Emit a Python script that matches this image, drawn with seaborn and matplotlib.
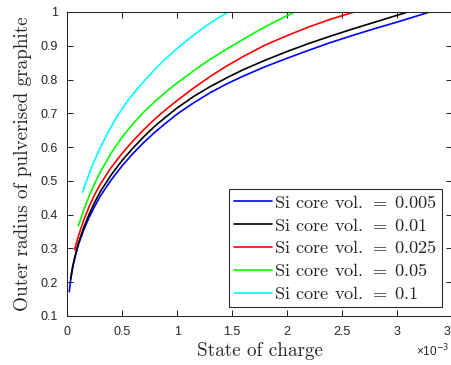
import numpy as np
import pandas as pd
import matplotlib
matplotlib.use('Agg')
import matplotlib.pyplot as plt
import seaborn as sns
from matplotlib.font_manager import FontProperties
from matplotlib.ticker import FuncFormatter

# values (state of charge in units of 1e-3)
volumes = ['0.005', '0.01', '0.025', '0.05', '0.1']
colors = ['#0000ff', '#000000', '#ff0000', '#00ff00', '#00ffff']

soc_005 = [0.018, 0.03, 0.05, 0.075, 0.1, 0.15, 0.2, 0.25, 0.3, 0.4, 0.5, 0.6, 0.7, 0.8, 0.9, 1.0,
           1.15, 1.3, 1.45, 1.6, 1.8, 2.0, 2.2, 2.4, 2.6, 2.8, 3.0, 3.15, 3.3]
rad_005 = [0.172, 0.205, 0.245, 0.28, 0.31, 0.355, 0.393, 0.425, 0.455, 0.503, 0.545, 0.582, 0.615, 0.645, 0.672, 0.698,
           0.731, 0.761, 0.787, 0.81, 0.838, 0.863, 0.887, 0.91, 0.931, 0.951, 0.97, 0.985, 1.0]

soc_01 = [0.03, 0.045, 0.06, 0.08, 0.1, 0.15, 0.2, 0.25, 0.3, 0.4, 0.5, 0.6, 0.7, 0.8, 0.9, 1.0,
          1.15, 1.3, 1.45, 1.6, 1.8, 2.0, 2.2, 2.4, 2.6, 2.8, 2.95, 3.1]
rad_01 = [0.21, 0.24, 0.263, 0.29, 0.315, 0.362, 0.402, 0.437, 0.468, 0.518, 0.561, 0.598, 0.632, 0.663, 0.69, 0.716,
          0.75, 0.779, 0.805, 0.829, 0.857, 0.883, 0.907, 0.929, 0.95, 0.97, 0.985, 1.0]

soc_025 = [0.067, 0.08, 0.1, 0.125, 0.15, 0.2, 0.25, 0.3, 0.4, 0.5, 0.6, 0.7, 0.8, 0.9, 1.0,
           1.15, 1.3, 1.45, 1.6, 1.8, 2.0, 2.2, 2.4, 2.61]
rad_025 = [0.296, 0.313, 0.335, 0.36, 0.384, 0.425, 0.46, 0.49, 0.54, 0.582, 0.619, 0.653, 0.684, 0.712, 0.738,
           0.775, 0.809, 0.84, 0.868, 0.902, 0.93, 0.956, 0.979, 1.0]

soc_05 = [0.1, 0.125, 0.15, 0.2, 0.25, 0.3, 0.4, 0.5, 0.6, 0.7, 0.8, 0.9, 1.0,
          1.15, 1.3, 1.45, 1.6, 1.75, 1.9, 2.07]
rad_05 = [0.367, 0.39, 0.414, 0.456, 0.493, 0.526, 0.583, 0.63, 0.67, 0.705, 0.736, 0.764, 0.79,
          0.826, 0.86, 0.89, 0.919, 0.947, 0.973, 1.0]

soc_1 = [0.138, 0.16, 0.18, 0.21, 0.24, 0.27, 0.3, 0.35, 0.4, 0.45, 0.5, 0.55, 0.6, 0.7, 0.8, 0.9,
         1.0, 1.1, 1.2, 1.3, 1.38, 1.465]
rad_1 = [0.466, 0.487, 0.505, 0.531, 0.555, 0.577, 0.598, 0.631, 0.661, 0.689, 0.714, 0.737, 0.758, 0.796, 0.831, 0.863,
         0.892, 0.919, 0.944, 0.967, 0.984, 1.0]

socs = [soc_005, soc_01, soc_025, soc_05, soc_1]
rads = [rad_005, rad_01, rad_025, rad_05, rad_1]
labels = ['Si core vol. $=\\;' + v + '$' for v in volumes]

frames = []
for lab, s, r in zip(labels, socs, rads):
    frames.append(pd.DataFrame({'soc': s, 'radius': r, 'series': lab}))
df = pd.concat(frames, ignore_index=True)

sns.set_theme(style='ticks')
plt.rcParams['font.family'] = ['Liberation Sans', 'DejaVu Sans']
plt.rcParams['mathtext.fontset'] = 'cm'

fig = plt.figure(figsize=(4.52, 3.65), dpi=100)
ax = fig.add_axes([67.3 / 452, 49 / 365, 384.5 / 452, 304 / 365])

sns.lineplot(data=df, x='soc', y='radius', hue='series', hue_order=labels,
             palette=colors, estimator=None, sort=False, linewidth=1.2,
             legend=False, ax=ax)

ax.set_xlim(0, 3.5)
ax.set_ylim(0.1, 1)
ax.set_xticks(np.arange(0, 3.51, 0.5))
ax.set_yticks(np.arange(0.1, 1.001, 0.1))
fmt = FuncFormatter(lambda v, p: '%g' % round(v, 3))
ax.xaxis.set_major_formatter(fmt)
ax.yaxis.set_major_formatter(fmt)
ax.tick_params(direction='in', length=4, width=0.75, color='#262626',
               labelcolor='#262626', labelsize=9, pad=7, top=True, right=True)
for sp in ax.spines.values():
    sp.set_visible(True)
    sp.set_linewidth(0.75)
    sp.set_color('#262626')

ax.set_xlabel('State of charge', fontfamily='cmr10', fontsize=13.8,
              color='#262626', labelpad=3)
ax.set_ylabel('Outer radius of pulverised graphite', fontfamily='cmr10',
              fontsize=13.8, color='#262626', labelpad=6)

fig.text(449 / 452, 9 / 365, '\u00d710$^{-3}$', ha='right', va='baseline',
         fontsize=8.5, color='#262626', math_fontfamily='dejavusans')

leg = ax.legend(ax.get_lines(), labels, loc='lower right',
                bbox_to_anchor=((442 - 67.3) / 384.5, (316 - 306.7) / 304),
                borderaxespad=0, prop=FontProperties(family='cmr10', size=13.2),
                handlelength=2.1, handletextpad=0.12, labelspacing=0.32,
                borderpad=0.25, fancybox=False, framealpha=1, edgecolor='#262626')
leg.get_frame().set_linewidth(0.75)

fig.savefig('out.png', dpi=100)
